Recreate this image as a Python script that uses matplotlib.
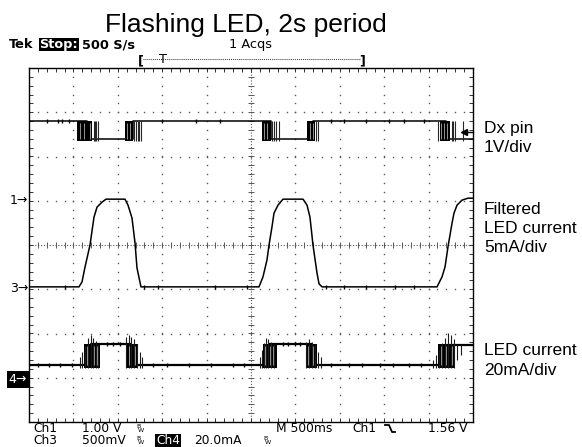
import numpy as np
import matplotlib.pyplot as plt

# scope read-outs look closest to DejaVu Sans, the annotations to Arial
scope_font = 'DejaVu Sans'
label_font = ['Liberation Sans', 'DejaVu Sans']

# scope settings: 500 ms/div, 10 x 8 divisions
t_per_div = 0.5
ch1_scale, ch1_pos = 1.0, 1.0     # Dx pin, V/div, ground at +1 div
ch3_scale, ch3_pos = 5.0, -1.0    # filtered LED current, mA/div, ground at -1 div
ch4_scale, ch4_pos = 20.0, -3.0   # LED current, mA/div, ground at -3 div
trig_level = 1.56                 # V on Ch1

# Dx pin (Ch1), volts
dx_t = [-2.5, -1.85, -1.85, -1.33, -1.33, 0.22, 0.22, 0.70, 0.70, 2.20, 2.20, 2.5]
dx_v = [1.80, 1.80, 1.39, 1.39, 1.80, 1.80, 1.39, 1.39, 1.80, 1.80, 1.39, 1.39]
dx_noise_lo, dx_noise_hi = 1.34, 1.80
dx_block_start = [-1.959, -1.419, 0.124, 0.631, 2.129]
dx_block_end = [-1.790, -1.329, 0.225, 0.721, 2.241]
dx_stripes = [-1.773, -1.757, -1.740, -1.723,
              -1.312, -1.295, -1.278, -1.261, -1.244,
              0.236, 0.259, 0.287, 0.315,
              0.732, 0.749,
              2.106, 2.258, 2.275, 2.297, 2.387]
dx_gaps = [-1.925, -1.88, -1.815, -1.395, -1.36, 0.15, 0.185, 0.66, 0.70, 2.14, 2.17, 2.21]
dx_blips = [-2.30, -2.17, -2.13, -2.05, -1.00, -0.62, -0.35, 0.90, 1.05, 1.30, 1.55, 1.72, 1.95]

# filtered LED current (Ch3), mA
flt_t = [-2.5, -1.937, -1.903, -1.869, -1.813, -1.768, -1.734, -1.678, -1.633,
         -1.419, -1.385, -1.340, -1.306, -1.284, -1.239,
         0.090, 0.135, 0.180, 0.203, 0.236, 0.259, 0.304, 0.360,
         0.586, 0.631, 0.664, 0.698, 0.743, 0.766, 0.800,
         2.095, 2.151, 2.185, 2.218, 2.264, 2.286, 2.320, 2.376, 2.444, 2.5]
flt_v = [0.27, 0.27, 0.83, 2.52, 5.00, 8.15, 9.28, 9.84, 10.18,
         10.18, 9.50, 8.04, 5.23, 2.41, 0.27,
         0.27, 1.40, 3.31, 5.00, 7.03, 8.60, 9.50, 10.18,
         10.18, 9.50, 8.15, 5.00, 1.85, 0.61, 0.27,
         0.27, 1.40, 2.52, 4.77, 7.48, 8.60, 9.50, 10.07, 10.29, 10.29]
flt_blips = [-2.10, -1.20, -1.05, -0.40, -0.05, 0.85, 1.05, 1.30, 1.62, 1.83]

# LED current (Ch4), mA
led_t = [-2.5, -1.80, -1.80, -1.35, -1.35, 0.20, 0.20, 0.69, 0.69, 2.20, 2.20, 2.5]
led_v = [5.9, 5.9, 15.4, 15.4, 5.9, 5.9, 15.4, 15.4, 5.9, 5.9, 14.9, 14.9]
led_noise_lo, led_noise_hi = 4.6, 15.4
led_block_start = [-1.881, -1.396, 0.135, 0.619, 2.106]
led_block_end = [-1.700, -1.272, 0.293, 0.743, 2.297]
led_spike_t = [-1.926, -1.903, -1.869, -1.836, -1.802, -1.779, -1.745, -1.723,
               -1.408, -1.374, -1.351, -1.318, -1.284, -1.250, -1.227,
               0.101, 0.124, 0.146, 0.169, 0.191, 0.225, 0.259,
               0.619, 0.653, 0.687, 0.721, 0.755, 0.788,
               2.050, 2.083, 2.117, 2.151, 2.185, 2.218, 2.252, 2.286]
led_spike_top = [9.5, 11.8, 14.5, 18.1, 19.5, 18.1, 16.8, 15.4,
                 18.6, 19.5, 18.6, 17.3, 15.4, 11.8, 9.5,
                 9.5, 12.7, 15.9, 18.1, 17.3, 16.3, 15.4,
                 16.3, 17.3, 16.3, 15.4, 11.8, 9.5,
                 8.2, 10.5, 12.7, 15.9, 18.1, 20.4, 19.1, 17.3]
led_dips_t = [2.320, 2.365]
led_dips_v = [8.2, 10.5]
led_gaps = [-1.85, -1.77, -1.73, -1.37, -1.31, 0.16, 0.21, 0.25, 0.64, 0.70, 2.14, 2.20, 2.26]
led_blips = [-2.40, -2.28, -2.15, -2.02, -1.10, -0.95, -0.70, -0.45, -0.20, -0.08,
             0.90, 1.10, 1.25, 1.45, 1.60, 1.78, 1.92]
led_plateau_blips = [-1.62, -1.55, -1.48, 0.36, 0.42, 0.50, 0.55]


def ch1(v):
    return np.asarray(v) / ch1_scale + ch1_pos


def ch3(v):
    return np.asarray(v) / ch3_scale + ch3_pos


def ch4(v):
    return np.asarray(v) / ch4_scale + ch4_pos


W, H = 582, 447
L, R, T, B = 29, 473, 68, 422
fig = plt.figure(figsize=(W / 100, H / 100), dpi=100)
ax = fig.add_axes([L / W, 1 - B / H, (R - L) / W, (B - T) / H])
ax.set_xlim(-5 * t_per_div, 5 * t_per_div)
ax.set_ylim(-4, 4)
ax.set_xticks([])
ax.set_yticks([])
for s in ax.spines.values():
    s.set_linewidth(1.0)
    s.set_color('black')

# graticule
gc = '0.35'
ys = np.arange(-4, 4.001, 0.2)
xs = np.arange(-2.5, 2.5001, 0.1)
for k in range(1, 10):
    if k != 5:
        x = -2.5 + k * t_per_div
        ax.plot(np.full(len(ys), x), ys, ls='none', marker='s', ms=1.0, mew=0, color=gc)
for k in range(-3, 4):
    if k != 0:
        ax.plot(xs, np.full(len(xs), k), ls='none', marker='s', ms=1.0, mew=0, color=gc)
ax.axvline(0, color=gc, lw=0.8, ls=(0, (1, 1.6)))
ax.axhline(0, color=gc, lw=0.8, ls=(0, (1, 1.6)))
ax.vlines(xs, -0.07, 0.07, color=gc, lw=0.7)
ax.hlines(ys, -0.035, 0.035, color=gc, lw=0.7)
ax.vlines(xs, 4 - 0.1, 4, color='0.2', lw=0.7)
ax.vlines(xs, -4, -4 + 0.1, color='0.2', lw=0.7)
ax.hlines(ys, -2.5, -2.5 + 0.05, color='0.2', lw=0.7)
ax.hlines(ys, 2.5 - 0.05, 2.5, color='0.2', lw=0.7)

blip = dict(ls='none', marker='|', ms=3, mew=1.0, color='black')

# Dx pin
ax.plot(dx_t, ch1(dx_v), color='black', lw=1.1)
for a, b in zip(dx_block_start, dx_block_end):
    ax.fill_between([a, b], ch1(dx_noise_lo), ch1(dx_noise_hi), color='black', lw=0)
ax.vlines(dx_stripes, ch1(dx_noise_lo), ch1(dx_noise_hi), color='0.15', lw=0.8)
ax.vlines(dx_gaps, ch1(dx_noise_lo) + 0.05, ch1(dx_noise_hi) - 0.05, color='white', lw=0.5, alpha=0.8)
ax.plot(dx_blips, ch1([1.80] * len(dx_blips)), **blip)

# filtered LED current
ax.plot(flt_t, ch3(flt_v), color='black', lw=1.1)
ax.plot(flt_blips, ch3([0.27] * len(flt_blips)), **blip)

# LED current
ax.plot(led_t, ch4(led_v), color='black', lw=1.6)
ax.plot(led_blips, ch4([5.9] * len(led_blips)), **blip)
ax.plot(led_plateau_blips, ch4([15.4] * len(led_plateau_blips)), **blip)
for a, b in zip(led_block_start, led_block_end):
    ax.fill_between([a, b], ch4(led_noise_lo), ch4(led_noise_hi), color='black', lw=0)
ax.vlines(led_spike_t, ch4(led_noise_lo), ch4(led_spike_top), color='0.1', lw=0.8)
ax.vlines(led_dips_t, ch4(led_dips_v), ch4(14.9), color='0.1', lw=0.8)
ax.vlines(led_gaps, ch4(led_noise_lo) + 0.05, ch4(led_noise_hi) - 0.05, color='white', lw=0.5, alpha=0.8)

# trigger level marker on the right edge
ax.plot([2.5 - 0.1, 2.5], [ch1(trig_level)] * 2, color='black', lw=1, clip_on=False)
ax.plot([2.5 - 0.1], [ch1(trig_level)], marker='<', ms=4, color='black', clip_on=False)

# overlay in pixel coordinates for all the read-outs
ov = fig.add_axes([0, 0, 1, 1])
ov.set_xlim(0, W)
ov.set_ylim(H, 0)
ov.axis('off')
ov.patch.set_alpha(0)

ov.text(246, 32, 'Flashing LED, 2s period', ha='center', va='baseline',
        fontsize=19, family=label_font)

sk = dict(va='baseline', fontsize=9.3, family=scope_font)
ov.text(9, 48, 'Tek', fontweight='bold', **sk)
ov.text(39.5, 48, 'Stop:', fontweight='bold', color='white',
        bbox=dict(boxstyle='square,pad=0.03', fc='black', ec='none'), **sk)
ov.text(82, 48, '500 S/s', fontweight='bold', **sk)
ov.text(229, 48, '1 Acqs', **sk)

# record bracket
ov.text(138, 64, '[', fontweight='bold', **sk)
ov.text(359, 64, ']', fontweight='bold', **sk)
ov.plot([143, 360], [59, 59], color='0.2', lw=0.7, ls=(0, (1, 1)))
ov.text(163, 63, 'T', ha='center', **sk)

# channel ground markers
ov.text(28, 204, '1\u2192', ha='right', fontsize=9, family='DejaVu Sans')
ov.text(28, 292, '3\u2192', ha='right', fontsize=9, family='DejaVu Sans')
ov.text(27, 383, '4\u2192', ha='right', fontsize=9, family='DejaVu Sans', color='white',
        bbox=dict(boxstyle='square,pad=0.15', fc='black', ec='none'))

# bottom read-out
bk = dict(va='baseline', fontsize=8.8, family=scope_font)
r1, r2 = 432.5, 444.4
ov.text(33, r1, 'Ch1', **bk)
ov.text(82, r1, '1.00 V', **bk)
ov.text(33, r2, 'Ch3', **bk)
ov.text(82, r2, '500mV', **bk)
ov.text(156, r2, 'Ch4', color='white',
        bbox=dict(boxstyle='square,pad=0.05', fc='black', ec='none'), **bk)
ov.text(194, r2, '20.0mA', **bk)
ov.text(276, r1, 'M 500ms', **bk)
ov.text(352, r1, 'Ch1', **bk)
ov.text(428, r1, '1.56 V', **bk)
for bx, by in [(136, 424), (136, 436), (263, 436)]:
    ov.text(bx, by + 4, 'B', fontsize=4.5, family='DejaVu Sans')
    ov.text(bx + 1.5, by + 7.5, 'W', fontsize=4.5, family='DejaVu Sans')
ov.plot([385, 389, 392, 395], [425, 425, 432, 432], color='black', lw=1.3)

# channel labels at the right
lk = dict(va='baseline', fontsize=12.5, family=label_font)
ov.text(484, 133, 'Dx pin', **lk)
ov.text(484, 152, '1V/div', **lk)
ov.text(484, 214, 'Filtered', **lk)
ov.text(484, 233, 'LED current', **lk)
ov.text(484, 252, '5mA/div', **lk)
ov.text(484, 355, 'LED current', **lk)
ov.text(484, 375, '20mA/div', **lk)

fig.savefig('out.png', dpi=100)
